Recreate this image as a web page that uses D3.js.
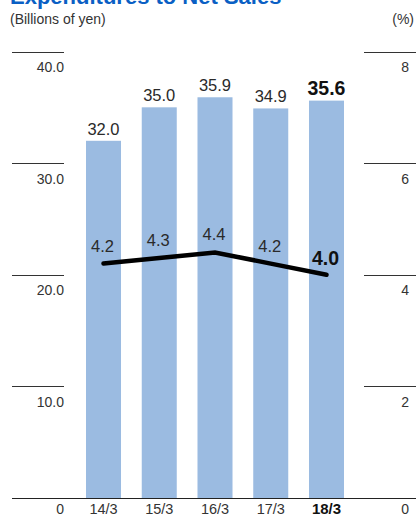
<!DOCTYPE html>
<html>
<head>
<meta charset="utf-8">
<script src="https://cdn.jsdelivr.net/npm/d3@7"></script>
<style>
  html, body { margin: 0; padding: 0; background: #fff; }
  svg { display: block; font-family: "Liberation Sans", Arial, Helvetica, sans-serif; }
</style>
</head>
<body>
<svg id="chart" width="419" height="518"></svg>
<script>
// Fiscal years (year/month of fiscal year end)
const categories = ["14/3", "15/3", "16/3", "17/3", "18/3"];
// R&D expenditures, billions of yen
const expenditures = [32.0, 35.0, 35.9, 34.9, 35.6];
// Ratio of R&D expenditures to net sales, %
const ratios = [4.2, 4.3, 4.4, 4.2, 4.0];
// Axis ticks
const leftTicks = [0, 10, 20, 30, 40];
const rightTicks = [0, 2, 4, 6, 8];

const svg = d3.select("#chart");
const W = 419;

const barColor = "#9bbbe1";
const textColor = "#333";
const lineColor = "#222";

const y = d3.scaleLinear().domain([0, 40]).range([498, 51.5]);
const yR = d3.scaleLinear().domain([0, 8]).range([498, 51.5]);
const x = d3.scaleBand().domain(categories).range([86, 344])
  .paddingInner(0.372).paddingOuter(0);

const last = categories.length - 1;

// Title (partly above the visible area) and unit captions
svg.append("text")
  .attr("x", 10).attr("y", 4)
  .attr("font-size", 22).attr("font-weight", "bold")
  .attr("fill", "#0a5fc4")
  .text("Expenditures to Net Sales");

svg.append("text")
  .attr("x", 10).attr("y", 24)
  .attr("font-size", 14).attr("fill", textColor)
  .text("(Billions of yen)");

svg.append("text")
  .attr("x", 414).attr("y", 24)
  .attr("text-anchor", "end")
  .attr("font-size", 14).attr("fill", textColor)
  .text("(%)");

// Left axis: short tick rules with labels below them
const leftAxis = svg.append("g");
leftAxis.selectAll("line")
  .data(leftTicks.filter(d => d > 0))
  .join("line")
  .attr("x1", 12).attr("x2", 64)
  .attr("y1", d => Math.round(y(d)) + 0.5).attr("y2", d => Math.round(y(d)) + 0.5)
  .attr("stroke", "#333").attr("stroke-width", 1);
leftAxis.selectAll("text")
  .data(leftTicks)
  .join("text")
  .attr("x", 64)
  .attr("y", d => d === 0 ? 514 : y(d) + 20.5)
  .attr("text-anchor", "end")
  .attr("font-size", 14).attr("fill", textColor)
  .text(d => d === 0 ? "0" : d3.format(".1f")(d));

// Right axis
const rightAxis = svg.append("g");
rightAxis.selectAll("line")
  .data(rightTicks.filter(d => d > 0))
  .join("line")
  .attr("x1", 364).attr("x2", 416)
  .attr("y1", d => Math.round(yR(d)) + 0.5).attr("y2", d => Math.round(yR(d)) + 0.5)
  .attr("stroke", "#333").attr("stroke-width", 1);
rightAxis.selectAll("text")
  .data(rightTicks)
  .join("text")
  .attr("x", 409)
  .attr("y", d => d === 0 ? 514 : yR(d) + 20.5)
  .attr("text-anchor", "end")
  .attr("font-size", 14).attr("fill", textColor)
  .text(d => d);

// Bars
svg.append("g").selectAll("rect")
  .data(expenditures)
  .join("rect")
  .attr("x", (d, i) => x(categories[i]))
  .attr("width", x.bandwidth())
  .attr("y", d => y(d))
  .attr("height", d => y(0) - y(d))
  .attr("fill", barColor);

// Baseline
svg.append("line")
  .attr("x1", 12).attr("x2", 416)
  .attr("y1", Math.round(y(0)) + 0.5).attr("y2", Math.round(y(0)) + 0.5)
  .attr("stroke", "#222").attr("stroke-width", 1);

// Bar value labels
svg.append("g").selectAll("text")
  .data(expenditures)
  .join("text")
  .attr("x", (d, i) => x(categories[i]) + x.bandwidth() / 2)
  .attr("y", d => y(d) - 6)
  .attr("text-anchor", "middle")
  .attr("font-size", (d, i) => i === last ? 19.5 : 16.5)
  .attr("font-weight", (d, i) => i === last ? "bold" : "normal")
  .attr("fill", (d, i) => i === last ? "#111" : "#2a2a2a")
  .text(d => d3.format(".1f")(d));

// Category labels
svg.append("g").selectAll("text")
  .data(categories)
  .join("text")
  .attr("x", d => x(d) + x.bandwidth() / 2)
  .attr("y", 514)
  .attr("text-anchor", "middle")
  .attr("font-size", (d, i) => i === last ? 15 : 14.5)
  .attr("font-weight", (d, i) => i === last ? "bold" : "normal")
  .attr("fill", (d, i) => i === last ? "#111" : textColor)
  .text(d => d);

// Ratio line
const line = d3.line()
  .x((d, i) => x(categories[i]) + x.bandwidth() / 2)
  .y(d => yR(d));
svg.append("path")
  .datum(ratios)
  .attr("d", line)
  .attr("fill", "none")
  .attr("stroke", "#000")
  .attr("stroke-width", 4.5)
  .attr("stroke-linejoin", "miter")
  .attr("stroke-linecap", "round");

// Ratio value labels
svg.append("g").selectAll("text")
  .data(ratios)
  .join("text")
  .attr("x", (d, i) => x(categories[i]) + x.bandwidth() / 2 - 1)
  .attr("y", (d, i) => yR(d) - (i === last ? 10 : 12))
  .attr("text-anchor", "middle")
  .attr("font-size", (d, i) => i === last ? 19.5 : 16.5)
  .attr("font-weight", (d, i) => i === last ? "bold" : "normal")
  .attr("fill", (d, i) => i === last ? "#111" : "#2a2a2a")
  .text(d => d3.format(".1f")(d));
</script>
</body>
</html>
